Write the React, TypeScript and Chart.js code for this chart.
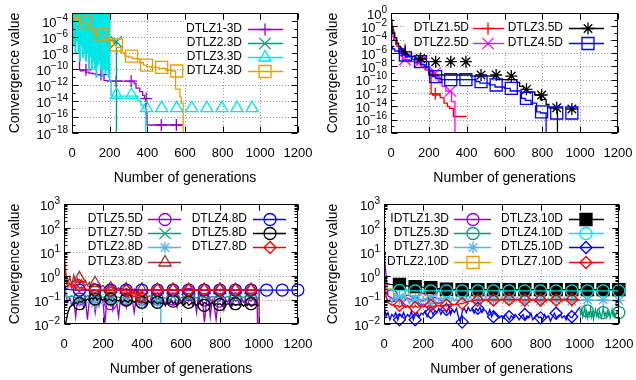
import React, { useEffect, useRef } from 'react';
import { Chart, registerables } from 'chart.js';
import { drawPoint } from 'chart.js/helpers';

Chart.register(...registerables);

type Pt = [number, number];

const FONT = '"Liberation Sans", Arial, Helvetica, sans-serif';
const X_TICKS = [0, 200, 400, 600, 800, 1000, 1200];
const X_TITLE = 'Number of generations';
const Y_TITLE = 'Convergence value';

// values sampled at a regular generation step
function seq(start: number, step: number, vals: number[]): Pt[] {
  return vals.map((v, i) => [start + i * step, v] as Pt);
}

// ---------------- Panel A (top-left): 3 objectives ----------------
const A_Y_LABEL_EXP = [-4, -6, -8, -10, -12, -14, -16, -18];
const A_Y_MINOR_EXP = [-5, -7, -9, -11, -13, -15, -17];

const DTLZ1_3D: Pt[] = [[0, 5e-3], [10, 1e-3], [20, 3e-4], [30, 1e-4], [40, 5e-6], [45, 8e-11], [60, 6e-11], [72, 8e-11], [90, 4e-11], [110, 3e-11], [130, 2.5e-11], [150, 2e-11], [170, 1.8e-11], [190, 3.5e-12], [230, 3e-12], [330, 3e-12], [340, 1.5e-12], [360, 4e-13], [375, 1.5e-13], [385, 5e-14], [392, 2e-14], [398, 3e-16], [405, 1e-17], [588, 1e-17]];
const DTLZ1_3D_MARKS = [74, 154, 234, 314, 394, 474, 554];

const DTLZ2_3D: Pt[] = [[0, 1e-3], [20, 2e-4], [40, 5e-5], [70, 2e-5], [110, 5e-6], [150, 2e-6], [190, 8e-7], [220, 4e-7], [236, 2.5e-7], [244, 1e-30]];
const DTLZ2_3D_MARKS = [236];

const DTLZ3_3D_NOISE = [
  1e-2, 1e-6, 1e-2, 1e-7, 1e-3, 1e-8, 1e-2, 3e-7, 1e-2, 1e-8,
  1e-3, 1e-9, 1e-2, 1e-7, 1e-2, 3e-9, 1e-3, 1e-8, 1e-2, 1e-9,
  1e-2, 1e-8, 1e-3, 1e-10, 1e-2, 3e-9, 1e-2, 1e-10, 1e-3, 1e-9,
  1e-2, 1e-10, 1e-2, 1e-11, 1e-3, 3e-10, 1e-2, 1e-9, 1e-2, 1e-10,
  1e-3, 1e-11, 1e-2, 1e-10, 1e-2, 3e-11, 1e-3, 1e-10, 1e-2, 1e-11,
  1e-3, 3e-12,
];
const DTLZ3_3D_TAIL: Pt[] = [[208, 3e-12], [215, 5.6e-14], [350, 4e-14], [365, 1e-14], [380, 3e-15], [392, 1.3e-15], [1000, 1e-30]];
const DTLZ3_3D_MARKS = [236, 316, 396, 476, 556, 636, 716, 796, 876, 956];

const DTLZ4_3D: Pt[] = [[0, 1e-3], [15, 5e-4], [30, 2e-4], [50, 1e-4], [70, 8e-5], [90, 3e-5], [110, 1e-5], [130, 4e-6], [150, 1.8e-6], [180, 1.5e-6], [200, 8e-7], [220, 3e-7], [236, 1e-7], [260, 5e-8], [280, 1e-8], [300, 4e-9], [320, 3e-9], [360, 2e-9], [380, 6e-10], [396, 3e-10], [420, 2e-10], [460, 1.6e-10], [500, 1.2e-10], [530, 7e-11], [550, 5.6e-11], [573, 3e-13], [580, 3e-14], [590, 5e-15], [600, 1e-30]];
const DTLZ4_3D_MARKS = [72, 156, 236, 316, 396, 476, 556];

// ---------------- Panel B (top-right): 5 objectives ----------------
const B_Y_LABEL_EXP = [0, -2, -4, -6, -8, -10, -12, -14, -16, -18];
const B_Y_MINOR_EXP = [-1, -3, -5, -7, -9, -11, -13, -15, -17];

const DTLZ1_5D: Pt[] = [[0, 1], [3, 1e-1], [8, 1e-2], [15, 3e-3], [25, 1e-4], [40, 2e-5], [55, 3e-6], [80, 1e-6], [110, 3e-7], [140, 1e-7], [160, 3e-8], [180, 1e-8], [200, 3e-9], [212, 1e-9], [220, 8e-13], [260, 5e-13], [280, 2e-13], [298, 3e-14], [310, 1e-14], [330, 5e-15], [345, 3e-16], [400, 3e-16]];
const DTLZ1_5D_MARKS = [74, 154, 234];

const DTLZ2_5D: Pt[] = [[0, 3e-1], [5, 3e-2], [10, 3e-3], [20, 3e-4], [30, 1e-4], [45, 1e-5], [60, 3e-6], [72, 1e-7], [100, 1e-7], [130, 5e-8], [160, 3e-8], [190, 1e-8], [220, 3e-9], [232, 1e-9], [250, 3e-10], [270, 5e-11], [290, 1e-11], [310, 2e-12], [320, 1.5e-12], [338, 5e-14], [343, 1e-30]];
const DTLZ2_5D_MARKS = [74, 154, 234, 314];

const DTLZ3_5D: Pt[] = [[0, 1], [4, 1e-1], [10, 1e-2], [20, 1e-3], [30, 2e-4], [40, 3e-5], [50, 1e-5], [60, 3e-6], [70, 1.5e-6], [90, 6e-7], [130, 3e-7], [150, 1.5e-7], [170, 6e-8], [200, 5e-8], [422, 5e-10], [560, 3.5e-10], [665, 1e-10], [680, 4e-11], [700, 1e-11], [715, 3.5e-12], [760, 1.5e-12], [790, 5e-13], [820, 1e-13], [835, 2e-14], [860, 6e-15], [880, 4e-15], [1000, 1e-30]];
const DTLZ4_5D: Pt[] = [[0, 1], [3, 1e-4], [8, 1e-5], [20, 4e-6], [40, 2e-6], [60, 1e-6], [76, 5e-7], [110, 3e-7], [140, 1e-7], [156, 5e-8], [180, 2e-8], [200, 8e-9], [220, 2e-9], [236, 2.8e-10], [260, 1.5e-10], [300, 1e-10], [450, 1e-10], [470, 5e-11], [520, 3e-11], [550, 1.6e-11], [600, 8e-12], [630, 5e-12], [690, 2e-12], [710, 1.6e-13], [740, 8e-14], [770, 3e-14], [790, 1.5e-15], [820, 1e-15], [1000, 1e-30]];
const B_MARKS = [76, 156, 236, 316, 396, 476, 556, 636, 716, 796, 876, 956];

// ---------------- Shared for bottom panels ----------------
const LOG_Y_LABEL_EXP = [3, 2, 1, 0, -1, -2];
const LOG_Y_MINOR = [
  0.02, 0.03, 0.04, 0.05, 0.06, 0.07, 0.08, 0.09,
  0.2, 0.3, 0.4, 0.5, 0.6, 0.7, 0.8, 0.9,
  2, 3, 4, 5, 6, 7, 8, 9,
  20, 30, 40, 50, 60, 70, 80, 90,
  200, 300, 400, 500, 600, 700, 800, 900,
];
const MARKS_TO_960 = [79, 159, 239, 319, 399, 479, 559, 639, 719, 799, 879, 959];
const MARKS_TO_1200 = [79, 159, 239, 319, 399, 479, 559, 639, 719, 799, 879, 959, 1039, 1119, 1199];

// ---------------- Panel C (bottom-left) ----------------
const DTLZ5_5D_VALS = [
  0.5, 0.15, 0.08, 0.12, 0.06, 0.1, 0.02, 0.11, 0.07, 0.13,
  0.05, 0.12, 0.015, 0.1, 0.08, 0.14, 0.03, 0.11, 0.06, 0.12,
  0.09, 0.01, 0.12, 0.07, 0.13, 0.04, 0.1, 0.08, 0.02, 0.12,
  0.09, 0.11, 0.05, 0.13, 0.08, 0.1, 0.03, 0.12, 0.07, 0.11,
  0.09, 0.15, 0.06, 0.1, 0.08, 0.16, 0.07, 0.11, 0.09, 0.14,
  0.08, 0.1, 0.06, 0.15, 0.09, 0.11, 0.07, 0.1, 0.05, 0.14,
  0.08, 0.11, 0.07, 0.17, 0.09, 0.12, 0.06, 0.11, 0.03, 0.16,
  0.08, 0.1, 0.012, 0.07, 0.18, 0.02, 0.1, 0.06, 0.015, 0.09,
  0.09, 0.15, 0.04, 0.1, 0.08, 0.14, 0.05, 0.11, 0.09, 0.1,
  0.07, 0.12, 0.08, 0.1, 0.06, 0.11, 0.09, 0.12, 0.08, 0.1,
  1e-5,
];
const DTLZ7_5D_VALS = [
  0.2, 0.13, 0.15, 0.12, 0.14, 0.11, 0.15, 0.13, 0.12, 0.14,
  0.13, 0.15, 0.12, 0.14, 0.13, 0.12, 0.15, 0.13, 0.14, 0.12,
  0.14, 0.13, 0.15, 0.12, 0.14, 0.13, 0.12, 0.14, 0.15, 0.13,
  0.12, 0.14, 0.13, 0.15, 0.12, 0.14, 0.13, 0.12, 0.14, 0.13,
  0.15, 0.12, 0.14, 0.13, 0.12, 0.14, 0.13, 0.15, 0.12, 0.13,
  0.12,
];
const DTLZ2_8D_VALS = [0.5, 0.1, 0.08, 0.09, 0.07, 0.09, 0.08, 0.07, 0.09, 0.08, 0.07, 0.09, 0.08, 0.07, 0.08, 0.09, 0.07, 0.08, 0.09, 0.07, 0.08, 0.07, 0.09, 0.08, 0.06];
const DTLZ2_8D_TAIL: Pt[] = [[496, 0.06], [497, 1e-5]];
const DTLZ3_8D_VALS = [
  10, 1.2, 0.5, 0.9, 0.4, 1.1, 0.6, 0.8, 0.45, 0.7,
  0.5, 0.65, 0.4, 0.55, 0.35, 0.5, 0.45, 0.38, 0.45, 0.35,
  0.4, 0.32, 0.38, 0.3, 0.35, 0.3, 0.33, 0.28, 0.32, 0.28,
  0.3, 0.27, 0.3, 0.27, 0.28, 0.26, 0.28, 0.26, 0.27, 0.26,
  0.26,
];
const DTLZ3_8D_TAIL: Pt[] = [[1000, 0.26], [1001, 1e-5]];
const DTLZ4_8D: Pt[] = [[0, 0.5], [10, 0.3], [30, 0.27], [60, 0.26], [1200, 0.26]];
const DTLZ5_8D_VALS = [
  0.01, 0.012, 0.03, 0.05, 0.06, 0.07, 0.08, 0.07, 0.09, 0.08,
  0.1, 0.09, 0.11, 0.1, 0.12, 0.11, 0.13, 0.1, 0.12, 0.11,
  0.1, 0.12, 0.09, 0.11, 0.1, 0.09, 0.11, 0.1, 0.09, 0.1,
  0.08, 0.1, 0.09, 0.08, 0.1, 0.09, 0.08, 0.09, 0.1, 0.08,
  0.09, 0.08, 0.07, 0.09, 0.08, 0.07, 0.09, 0.08, 0.07, 0.08,
  0.07, 0.08, 0.06, 0.08, 0.07, 0.09, 0.07, 0.08, 0.06, 0.07,
  0.08, 0.06, 0.07, 0.08, 0.06, 0.07, 0.08, 0.07, 0.06, 0.08,
  0.07, 0.06, 0.08, 0.07, 0.06, 0.07, 0.08, 0.06, 0.07, 0.065,
  0.07, 0.06, 0.08, 0.06, 0.07, 0.065, 0.06, 0.07, 0.06, 0.065,
  0.06, 0.07, 0.055, 0.065, 0.06, 0.07, 0.055, 0.06, 0.065, 0.06,
  0.06,
];
const DTLZ7_8D_VALS = [
  10, 0.6, 0.35, 0.5, 0.3, 0.45, 0.28, 0.4, 0.3, 0.35,
  0.27, 0.3, 0.26, 0.28, 0.25, 0.27, 0.26, 0.24, 0.27, 0.26,
  0.25, 0.27, 0.26, 0.24, 0.27, 0.26, 0.25, 0.27, 0.26, 0.25,
  0.27, 0.24, 0.26, 0.15, 0.3, 0.12, 0.26, 0.1, 0.28, 0.13,
  0.26,
];
const DTLZ7_8D_TAIL: Pt[] = [[1000, 0.26]];

// ---------------- Panel D (bottom-right) ----------------
const IDTLZ1_3D_VALS = [
  10, 0.15, 0.12, 0.1, 0.13, 0.09, 0.12, 0.1, 0.14, 0.11,
  0.09, 0.12, 0.1, 0.13, 0.11, 0.09,
];
const IDTLZ1_3D_MARKS = [39, 119, 199, 279];
const DTLZ5_3D_VALS = [
  0.045, 0.025, 0.04, 0.02, 0.03, 0.05, 0.022, 0.035, 0.018, 0.03, 0.025,
  0.045, 0.02, 0.03, 0.016, 0.028, 0.04, 0.022, 0.03, 0.02, 0.035,
  0.025, 0.018, 0.03, 0.045, 0.022, 0.028, 0.02, 0.035, 0.025, 0.03,
  0.018, 0.028, 0.04, 0.022, 0.03, 0.02, 0.026, 0.035, 0.03, 0.028,
];
const DTLZ5_3D_MARKS = [1039, 1119, 1199];
const DTLZ7_3D_VALS = [
  0.3, 0.15, 0.08, 0.12, 0.07, 0.15, 0.09, 0.13, 0.07, 0.12,
  0.08, 0.15, 0.1, 0.07, 0.13, 0.09, 0.16, 0.08, 0.12, 0.07,
  0.14, 0.09, 0.12, 0.07, 0.15, 0.1, 0.08, 0.13, 0.09, 0.16,
  0.08, 0.12, 0.1, 0.15, 0.07, 0.13, 0.09, 0.12, 0.08, 0.14,
  0.1, 0.08, 0.13, 0.09, 0.15, 0.08, 0.12, 0.1, 0.14, 0.08,
  0.12, 0.09, 0.15, 0.08, 0.13, 0.1, 0.12, 0.08, 0.14, 0.09,
  0.13, 0.08, 0.12, 0.1, 0.15, 0.09, 0.12, 0.08, 0.13, 0.1,
  0.14, 0.08, 0.12, 0.09, 0.15, 0.1, 0.12, 0.08, 0.13, 0.09,
  0.12, 0.1, 0.14, 0.08, 0.12, 0.09, 0.13, 0.1, 0.15, 0.09,
  0.12, 0.08, 0.13, 0.1, 0.12, 0.09, 0.14, 0.1, 0.12, 0.1,
];
const DTLZ7_3D_TAIL: Pt[] = [[1000, 0.1], [1050, 0.095], [1100, 0.1], [1150, 0.095], [1200, 0.1]];
const DTLZ2_10D: Pt[] = [[0, 1], [5, 0.4], [20, 0.3], [60, 0.27], [1200, 0.26]];
const DTLZ3_10D: Pt[] = [[0, 0.8], [5, 0.5], [30, 0.45], [80, 0.42], [150, 0.36], [230, 0.33], [300, 0.28], [350, 0.27], [1200, 0.27]];
const DTLZ4_10D: Pt[] = [[0, 0.6], [5, 0.35], [20, 0.27], [60, 0.25], [150, 0.24], [1200, 0.24]];
const DTLZ5_10D_VALS = [
  0.08, 0.02, 0.03, 0.015, 0.025, 0.02, 0.03, 0.015, 0.025, 0.02,
  0.03, 0.018, 0.025, 0.02, 0.035, 0.015, 0.025, 0.03, 0.02, 0.028,
  0.025, 0.035, 0.02, 0.03, 0.04, 0.025, 0.035, 0.03, 0.045, 0.025,
  0.035, 0.04, 0.03, 0.05, 0.025, 0.04, 0.03, 0.045, 0.02, 0.012,
  0.035, 0.045, 0.03, 0.05, 0.035, 0.04, 0.028, 0.045, 0.035, 0.05,
  0.03, 0.04, 0.035, 0.025, 0.04, 0.02, 0.03, 0.025, 0.02, 0.018,
  0.022, 0.018, 0.025, 0.02, 0.015, 0.022, 0.018, 0.025, 0.02, 0.015,
  0.02, 0.025, 0.015, 0.022, 0.018, 0.028, 0.015, 0.02, 0.025, 0.018,
  0.02, 0.015, 0.025, 0.018, 0.022, 0.013, 0.02, 0.028, 0.018, 0.022,
  0.025, 0.018, 0.022, 0.015, 0.025, 0.02, 0.018, 0.025, 0.03, 0.04,
  0.05,
];
const DTLZ7_10D_VALS = [
  1.2, 0.15, 0.08, 0.07, 0.06, 0.065, 0.055, 0.06, 0.05, 0.06,
  0.055, 0.05, 0.06, 0.05, 0.055, 0.048, 0.058, 0.05, 0.052, 0.06,
  0.05, 0.055, 0.048, 0.06, 0.052, 0.05, 0.058, 0.055, 0.06, 0.052,
  0.058, 0.062, 0.055, 0.065, 0.06, 0.068, 0.062, 0.07, 0.065, 0.072,
  0.07, 0.075, 0.08, 0.085, 0.09, 0.092, 0.095, 0.098, 0.1, 0.1,
];
const DTLZ7_10D_TAIL: Pt[] = [[500, 0.1], [560, 0.1], [620, 0.105], [700, 0.1], [800, 0.1], [900, 0.105], [1000, 0.1]];

// ---------------- Definitions ----------------
interface SeriesDef {
  label: string; color: string; style: string; radius: number; filled?: boolean;
  stepped: boolean; pts: Pt[]; marks: number[];
}
interface LegendCol { tr: number; x1: number; x2: number; xm: number }
interface PanelDef {
  left: number; top: number;
  area: { l: number; r: number; t: number; b: number };
  yMin: number; yMax: number;
  yLabelExp: number[]; yMinor: number[];
  legend: { cols: LegendCol[]; rows: number[]; box: [number, number, number, number] };
  series: SeriesDef[];
}

const PURPLE = '#9400d3';
const GREEN = '#009e73';
const LIGHTBLUE = '#56b4e9';
const ORANGE = '#e69f00';
const CYAN = '#00e5e5';

const PANELS: PanelDef[] = [
  {
    left: 0, top: 0, area: { l: 72, r: 298, t: 13, b: 133 },
    yMin: 1e-18, yMax: 1e-3, yLabelExp: A_Y_LABEL_EXP, yMinor: A_Y_MINOR_EXP.map((e) => Math.pow(10, e)),
    legend: { cols: [{ tr: 242, x1: 248, x2: 283, xm: 265 }], rows: [29, 43, 57, 71], box: [185, 21, 107, 58] },
    series: [
      { label: 'DTLZ1-3D', color: PURPLE, style: 'cross', radius: 6, stepped: true, pts: DTLZ1_3D, marks: DTLZ1_3D_MARKS },
      { label: 'DTLZ2.3D', color: GREEN, style: 'crossRot', radius: 8, stepped: true, pts: DTLZ2_3D, marks: DTLZ2_3D_MARKS },
      { label: 'DTLZ3.3D', color: CYAN, style: 'triangle', radius: 7, stepped: true, pts: [...seq(0, 4, DTLZ3_3D_NOISE), ...DTLZ3_3D_TAIL], marks: DTLZ3_3D_MARKS },
      { label: 'DTLZ4.3D', color: ORANGE, style: 'rect', radius: 8.5, stepped: true, pts: DTLZ4_3D, marks: DTLZ4_3D_MARKS },
    ],
  },
  {
    left: 318, top: 0, area: { l: 73, r: 300, t: 13, b: 133 },
    yMin: 1e-18, yMax: 1, yLabelExp: B_Y_LABEL_EXP, yMinor: B_Y_MINOR_EXP.map((e) => Math.pow(10, e)),
    legend: {
      cols: [{ tr: 151, x1: 155, x2: 186, xm: 170 }, { tr: 245, x1: 251, x2: 286, xm: 270 }],
      rows: [28, 43], box: [88, 20, 203, 31],
    },
    series: [
      { label: 'DTLZ1.5D', color: '#ff0000', style: 'cross', radius: 6, stepped: true, pts: DTLZ1_5D, marks: DTLZ1_5D_MARKS },
      { label: 'DTLZ2.5D', color: '#ff00ff', style: 'crossRot', radius: 8, stepped: true, pts: DTLZ2_5D, marks: DTLZ2_5D_MARKS },
      { label: 'DTLZ3.5D', color: '#000000', style: 'star', radius: 6, stepped: true, pts: DTLZ3_5D, marks: B_MARKS },
      { label: 'DTLZ4.5D', color: '#0000ff', style: 'rect', radius: 8.5, stepped: true, pts: DTLZ4_5D, marks: B_MARKS },
    ],
  },
  {
    left: 0, top: 190, area: { l: 64, r: 298, t: 14, b: 134 },
    yMin: 1e-2, yMax: 1e3, yLabelExp: LOG_Y_LABEL_EXP, yMinor: LOG_Y_MINOR,
    legend: {
      cols: [{ tr: 143, x1: 148, x2: 181, xm: 165 }, { tr: 247, x1: 253, x2: 286, xm: 270 }],
      rows: [29, 43, 57, 72], box: [86, 21, 204, 59],
    },
    series: [
      { label: 'DTLZ5.5D', color: PURPLE, style: 'circle', radius: 6, stepped: false, pts: seq(0, 10, DTLZ5_5D_VALS), marks: MARKS_TO_960 },
      { label: 'DTLZ7.5D', color: GREEN, style: 'crossRot', radius: 8, stepped: false, pts: seq(0, 20, DTLZ7_5D_VALS), marks: MARKS_TO_960 },
      { label: 'DTLZ2.8D', color: LIGHTBLUE, style: 'star', radius: 6, stepped: false, pts: [...seq(0, 20, DTLZ2_8D_VALS), ...DTLZ2_8D_TAIL], marks: [79, 159, 239, 319, 399, 479] },
      { label: 'DTLZ3.8D', color: '#a52a2a', style: 'triangle', radius: 7, stepped: false, pts: [...seq(0, 10, DTLZ3_8D_VALS), ...DTLZ3_8D_TAIL], marks: MARKS_TO_960 },
      { label: 'DTLZ4.8D', color: '#0000ff', style: 'circle', radius: 6, stepped: false, pts: DTLZ4_8D, marks: MARKS_TO_1200 },
      { label: 'DTLZ5.8D', color: '#000000', style: 'circle', radius: 6, stepped: false, pts: seq(0, 10, DTLZ5_8D_VALS), marks: MARKS_TO_960 },
      { label: 'DTLZ7.8D', color: '#ff0000', style: 'rectRot', radius: 6, stepped: false, pts: [...seq(0, 10, DTLZ7_8D_VALS), ...DTLZ7_8D_TAIL], marks: MARKS_TO_960 },
    ],
  },
  {
    left: 318, top: 190, area: { l: 66, r: 301, t: 14, b: 134 },
    yMin: 1e-2, yMax: 1e3, yLabelExp: LOG_Y_LABEL_EXP, yMinor: LOG_Y_MINOR,
    legend: {
      cols: [{ tr: 131, x1: 136, x2: 173, xm: 155 }, { tr: 245, x1: 251, x2: 286, xm: 268 }],
      rows: [29, 43, 57, 72], box: [68, 21, 223, 59],
    },
    series: [
      { label: 'IDTLZ1.3D', color: PURPLE, style: 'circle', radius: 6, stepped: false, pts: seq(0, 20, IDTLZ1_3D_VALS), marks: IDTLZ1_3D_MARKS },
      { label: 'DTLZ5.3D', color: GREEN, style: 'circle', radius: 6, stepped: false, pts: seq(1000, 5, DTLZ5_3D_VALS), marks: DTLZ5_3D_MARKS },
      { label: 'DTLZ7.3D', color: LIGHTBLUE, style: 'star', radius: 6, stepped: false, pts: [...seq(0, 10, DTLZ7_3D_VALS), ...DTLZ7_3D_TAIL], marks: MARKS_TO_1200 },
      { label: 'DTLZ2.10D', color: ORANGE, style: 'rect', radius: 8.5, stepped: false, pts: DTLZ2_10D, marks: MARKS_TO_1200 },
      { label: 'DTLZ3.10D', color: '#000000', style: 'rect', radius: 8.5, filled: true, stepped: false, pts: DTLZ3_10D, marks: MARKS_TO_1200 },
      { label: 'DTLZ4.10D', color: CYAN, style: 'circle', radius: 6, stepped: false, pts: DTLZ4_10D, marks: MARKS_TO_1200 },
      { label: 'DTLZ5.10D', color: '#0000ff', style: 'rectRot', radius: 6, stepped: false, pts: seq(0, 10, DTLZ5_10D_VALS), marks: MARKS_TO_960 },
      { label: 'DTLZ7.10D', color: '#ff0000', style: 'rectRot', radius: 6, stepped: false, pts: [...seq(0, 10, DTLZ7_10D_VALS), ...DTLZ7_10D_TAIL], marks: MARKS_TO_960 },
    ],
  },
];

const W = 318;
const H = 190;

function valueAt(pts: Pt[], x: number): number {
  let v = pts[0][1];
  for (const p of pts) {
    if (p[0] <= x) v = p[1];
    else break;
  }
  return v;
}

function expText(e: number): string {
  return e < 0 ? '\u2212' + String(-e) : String(e);
}

function makeFramePlugin(p: PanelDef) {
  return {
    id: 'gnuplotFrame',
    beforeDatasetsDraw(chart: any) {
      const { ctx, chartArea: a, scales } = chart;
      const xs = scales.x;
      const ys = scales.y;
      ctx.save();
      ctx.strokeStyle = '#9a9a9a';
      ctx.lineWidth = 1;
      ctx.setLineDash([1, 2]);
      ctx.beginPath();
      for (const v of X_TICKS) {
        const x = Math.round(xs.getPixelForValue(v)) + 0.5;
        if (x <= a.left + 2 || x >= a.right - 2) continue;
        ctx.moveTo(x, a.top);
        ctx.lineTo(x, a.bottom);
      }
      for (const e of p.yLabelExp) {
        const y = Math.round(ys.getPixelForValue(Math.pow(10, e))) + 0.5;
        if (y <= a.top + 2 || y >= a.bottom - 2) continue;
        ctx.moveTo(a.left, y);
        ctx.lineTo(a.right, y);
      }
      ctx.stroke();
      ctx.restore();
    },
    afterDatasetsDraw(chart: any) {
      const { ctx, chartArea: a, scales } = chart;
      const xs = scales.x;
      const ys = scales.y;
      ctx.save();
      ctx.setLineDash([]);
      // frame
      const L = Math.round(a.left) + 0.5;
      const R = Math.round(a.right) - 0.5;
      const T = Math.round(a.top) + 0.5;
      const B = Math.round(a.bottom) - 0.5;
      ctx.strokeStyle = '#000';
      ctx.lineWidth = 1;
      ctx.strokeRect(L, T, R - L, B - T);
      ctx.beginPath();
      for (const v of X_TICKS) {
        const x = Math.round(xs.getPixelForValue(v)) + 0.5;
        ctx.moveTo(x, B); ctx.lineTo(x, B - 6);
        ctx.moveTo(x, T); ctx.lineTo(x, T + 6);
      }
      for (const e of p.yLabelExp) {
        const y = Math.round(ys.getPixelForValue(Math.pow(10, e))) + 0.5;
        ctx.moveTo(L, y); ctx.lineTo(L + 6, y);
        ctx.moveTo(R, y); ctx.lineTo(R - 6, y);
      }
      for (const v of p.yMinor) {
        const y = Math.round(ys.getPixelForValue(v)) + 0.5;
        ctx.moveTo(L, y); ctx.lineTo(L + 3, y);
        ctx.moveTo(R, y); ctx.lineTo(R - 3, y);
      }
      ctx.stroke();

      // x tick labels
      ctx.fillStyle = '#000';
      ctx.textBaseline = 'middle';
      ctx.textAlign = 'center';
      ctx.font = `13px ${FONT}`;
      for (const v of X_TICKS) {
        ctx.fillText(String(v), xs.getPixelForValue(v), a.bottom + 20.5);
      }
      // y tick labels 10^e
      ctx.textAlign = 'left';
      for (const e of p.yLabelExp) {
        const y = ys.getPixelForValue(Math.pow(10, e));
        const ex = expText(e);
        ctx.font = `13px ${FONT}`;
        const wb = ctx.measureText('10').width;
        ctx.font = `10px ${FONT}`;
        const we = ctx.measureText(ex).width;
        const xr = a.left - 4;
        ctx.font = `13px ${FONT}`;
        ctx.fillText('10', xr - wb - we, y + 2);
        ctx.font = `10px ${FONT}`;
        ctx.fillText(ex, xr - we, y - 3);
      }
      // axis titles
      ctx.font = `14px ${FONT}`;
      ctx.textAlign = 'center';
      ctx.fillText(X_TITLE, (a.left + a.right) / 2, a.bottom + 45);
      ctx.save();
      ctx.translate(15, (a.top + a.bottom) / 2);
      ctx.rotate(-Math.PI / 2);
      ctx.fillText(Y_TITLE, 0, 0);
      ctx.restore();

      // legend (opaque key)
      const lg = p.legend;
      ctx.fillStyle = '#fff';
      ctx.fillRect(lg.box[0], lg.box[1], lg.box[2], lg.box[3]);
      p.series.forEach((s, k) => {
        const col = lg.cols[Math.floor(k / lg.rows.length)];
        const y = lg.rows[k % lg.rows.length];
        ctx.fillStyle = '#000';
        ctx.font = `12px ${FONT}`;
        ctx.textAlign = 'right';
        ctx.textBaseline = 'middle';
        ctx.fillText(s.label, col.tr, y);
        ctx.strokeStyle = s.color;
        ctx.lineWidth = 1.3;
        ctx.beginPath();
        ctx.moveTo(col.x1, y + 0.5);
        ctx.lineTo(col.x2, y + 0.5);
        ctx.stroke();
        ctx.fillStyle = s.filled ? s.color : 'rgba(0,0,0,0)';
        drawPoint(ctx, { pointStyle: s.style, radius: s.radius, rotation: 0, borderWidth: 1.3 } as any, col.xm, y + 0.5);
      });
      ctx.restore();
    },
  };
}

function buildConfig(p: PanelDef): any {
  const datasets: any[] = [];
  p.series.forEach((s, i) => {
    datasets.push({
      label: s.label,
      data: s.pts.map(([x, y]) => ({ x, y })),
      borderColor: s.color,
      backgroundColor: s.color,
      borderWidth: 1.3,
      pointRadius: 0,
      pointHoverRadius: 0,
      fill: false,
      tension: 0,
      stepped: s.stepped ? 'after' : false,
      order: -(2 * i),
    });
    datasets.push({
      label: s.label + ' points',
      data: s.marks.map((mx) => ({ x: mx, y: valueAt(s.pts, mx) })),
      showLine: false,
      pointStyle: s.style,
      pointRadius: s.radius,
      pointHoverRadius: s.radius,
      pointBorderWidth: 1.3,
      pointBorderColor: s.color,
      pointBackgroundColor: s.filled ? s.color : 'rgba(0,0,0,0)',
      clip: false,
      order: -(2 * i + 1),
    });
  });
  return {
    type: 'line',
    data: { datasets },
    options: {
      responsive: false,
      animation: false,
      events: [],
      layout: { padding: { left: p.area.l, right: W - p.area.r, top: p.area.t, bottom: H - p.area.b } },
      scales: {
        x: { type: 'linear', min: 0, max: 1200, display: false },
        y: { type: 'logarithmic', min: p.yMin, max: p.yMax, display: false },
      },
      plugins: { legend: { display: false }, tooltip: { enabled: false } },
    },
    plugins: [makeFramePlugin(p)],
  };
}

function Panel({ def }: { def: PanelDef }) {
  const ref = useRef<HTMLCanvasElement>(null);
  useEffect(() => {
    if (!ref.current) return;
    const chart = new Chart(ref.current, buildConfig(def));
    return () => chart.destroy();
  }, [def]);
  return (
    <canvas
      ref={ref}
      width={W}
      height={H}
      style={{ position: 'absolute', left: def.left, top: def.top, width: W, height: H }}
    />
  );
}

export default function App() {
  return (
    <div style={{ position: 'fixed', left: 0, top: 0, width: 636, height: 380, background: '#ffffff', overflow: 'hidden' }}>
      {PANELS.map((p, i) => (
        <Panel key={i} def={p} />
      ))}
    </div>
  );
}
